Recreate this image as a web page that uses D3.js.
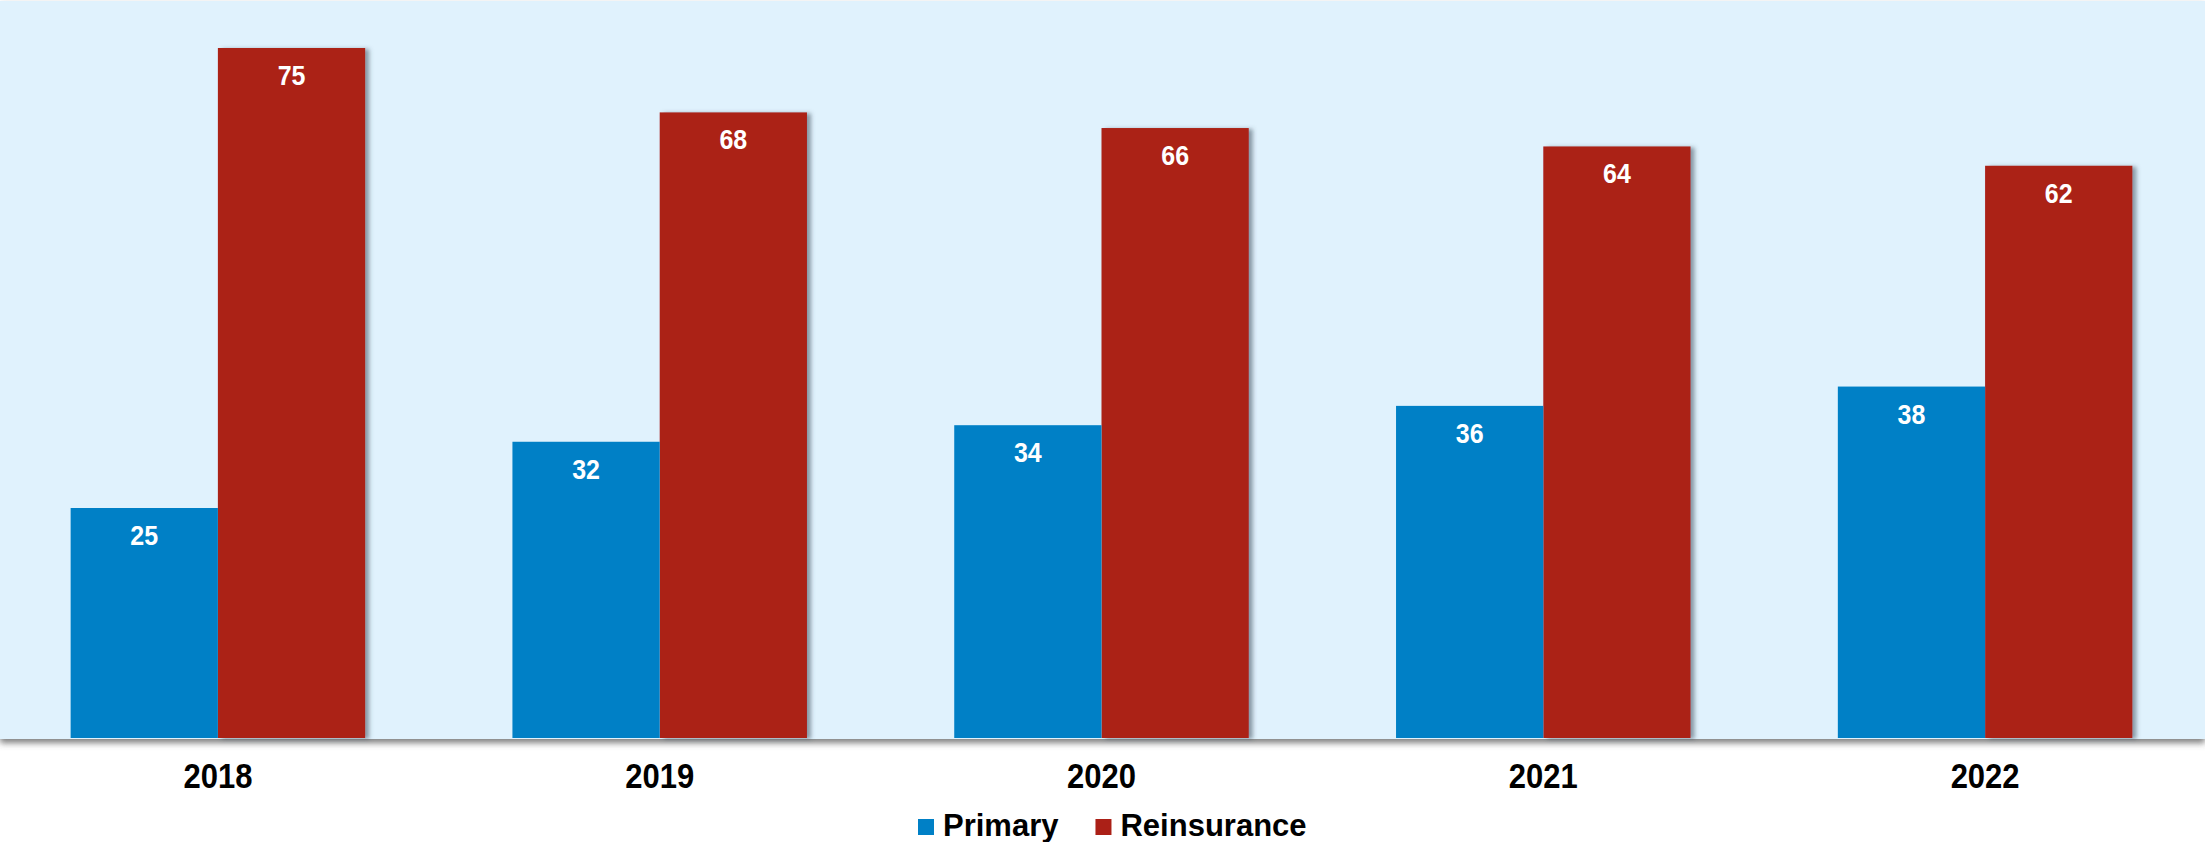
<!DOCTYPE html>
<html>
<head>
<meta charset="utf-8">
<script src="https://cdn.jsdelivr.net/npm/d3@7"></script>
<style>
  html, body { margin: 0; padding: 0; background: #ffffff; }
  svg { display: block; }
  text { font-family: "Liberation Sans", Arial, sans-serif; font-weight: bold; }
</style>
</head>
<body>
<svg id="chart" width="2205" height="842"></svg>
<script>
// ---- data ----
const years = ["2018", "2019", "2020", "2021", "2022"];
const seriesNames = ["Primary", "Reinsurance"];
const primary = [25, 32.2, 34, 36.1, 38.2];
const reinsurance = [75, 68, 66.3, 64.3, 62.2];
const seriesColors = ["#0080C6", "#AB2017"];

const W = 2205, H = 842;
const svg = d3.select("#chart");
const defs = svg.append("defs");

const fPlot = defs.append("filter").attr("id", "plotShadow")
  .attr("x", "-5%").attr("y", "-5%").attr("width", "110%").attr("height", "115%");
fPlot.append("feDropShadow").attr("dx", 0).attr("dy", 4).attr("stdDeviation", 3)
  .attr("flood-color", "#555").attr("flood-opacity", 0.75);

const fBar = defs.append("filter").attr("id", "barShadow")
  .attr("x", "-10%").attr("y", "-10%").attr("width", "130%").attr("height", "120%");
fBar.append("feDropShadow").attr("dx", 4).attr("dy", 1).attr("stdDeviation", 2.2)
  .attr("flood-color", "#3d4f5c").attr("flood-opacity", 0.55);

const plotTop = 1, plotBottom = 739;
const x0 = d3.scaleBand().domain(years).range([-3, 2206]).paddingInner(0).paddingOuter(0);
const x1 = d3.scaleBand().domain(seriesNames).range([0, x0.bandwidth()]).paddingInner(0).paddingOuter(0.5);
const y = d3.scaleLinear().domain([0, 80]).range([738, 2]);

// plot background
svg.append("rect")
  .attr("x", 0).attr("y", plotTop).attr("width", W).attr("height", plotBottom - plotTop)
  .attr("fill", "#E0F2FD").attr("filter", "url(#plotShadow)");

const rows = years.map((yr, i) => ({ year: yr, values: [primary[i], reinsurance[i]] }));
const fmt = d3.format(".0f");
const stretch = 1.13;

const groups = svg.append("g").selectAll("g").data(rows).join("g")
  .attr("transform", d => `translate(${x0(d.year)},0)`);

groups.each(function(d) {
  const g = d3.select(this);
  [1, 0].forEach(si => {
    g.append("rect")
      .attr("x", x1(seriesNames[si]))
      .attr("y", y(d.values[si]))
      .attr("width", x1.bandwidth())
      .attr("height", y(0) - y(d.values[si]))
      .attr("fill", seriesColors[si])
      .attr("filter", si === 1 ? "url(#barShadow)" : null);
  });
  [0, 1].forEach(si => {
    g.append("text")
      .attr("transform", `translate(${x1(seriesNames[si]) + x1.bandwidth() / 2},${y(d.values[si]) + 37}) scale(1,${stretch})`)
      .attr("text-anchor", "middle")
      .attr("font-size", 25)
      .attr("fill", "#ffffff")
      .text(fmt(d.values[si]));
  });
});

// x axis labels
const xAxis = d3.axisBottom(x0).tickSize(0).tickPadding(0);
const ax = svg.append("g").attr("transform", `translate(0,${plotBottom})`).call(xAxis);
ax.select(".domain").remove();
ax.selectAll(".tick text")
  .attr("y", 0).attr("dy", 0)
  .attr("transform", `translate(0,49) scale(1,${stretch})`)
  .attr("font-size", 31)
  .attr("font-family", "'Liberation Sans', Arial, sans-serif")
  .attr("font-weight", "bold")
  .attr("fill", "#000");

// legend
const legend = svg.append("g");
let lx = 918;
seriesNames.forEach((name, i) => {
  legend.append("rect").attr("x", lx).attr("y", 819).attr("width", 16).attr("height", 16)
    .attr("fill", seriesColors[i]);
  const t = legend.append("text")
    .attr("x", lx + 25).attr("y", 836)
    .attr("font-size", 31).attr("fill", "#000").text(name);
  const w = t.node().getComputedTextLength();
  lx = lx + 25 + w + 37;
});
</script>
</body>
</html>
